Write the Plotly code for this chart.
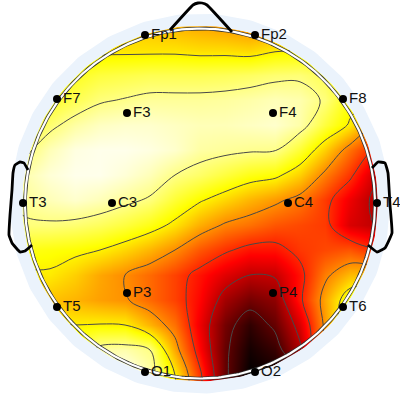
import numpy as np
import plotly.graph_objects as go

# grid positions of the scalp map (picture pixels)
grid_x = [0, 25, 50, 75, 100, 125, 150, 175, 200, 225, 250, 275, 300, 325, 350, 375, 400]
grid_y = [0, 25, 50, 75, 100, 125, 150, 175, 200, 225, 250, 275, 300, 325, 350, 375, 400]

# values: 0 = white ... 1 = black
row_000 = [.30, .30, .30, .30, .30, .32, .34, .36, .38, .40, .42, .42, .40, .38, .36, .34, .34]
row_025 = [.30, .30, .30, .30, .30, .32, .34, .36, .38, .40, .42, .42, .40, .38, .36, .34, .34]
row_050 = [.30, .30, .30, .29, .29, .29, .29, .29, .30, .30, .31, .28, .27, .26, .26, .28, .28]
row_075 = [.30, .30, .26, .22, .19, .18, .17, .17, .17, .165, .155, .14, .135, .17, .25, .30, .30]
row_100 = [.28, .25, .21, .17, .13, .115, .10, .10, .10, .095, .085, .07, .08, .13, .24, .30, .32]
row_125 = [.24, .22, .14, .09, .06, .05, .05, .06, .07, .07, .06, .05, .085, .19, .28, .42, .44]
row_150 = [.17, .14, .07, .03, .02, .02, .03, .05, .09, .10, .11, .115, .20, .32, .46, .58, .60]
row_175 = [.12, .08, .04, .02, .02, .04, .07, .12, .15, .19, .23, .25, .32, .44, .55, .70, .72]
row_200 = [.13, .10, .07, .05, .07, .10, .13, .20, .26, .31, .36, .40, .45, .54, .65, .74, .74]
row_225 = [.14, .13, .13, .14, .16, .19, .23, .29, .37, .43, .46, .50, .52, .54, .68, .72, .72]
row_250 = [.22, .23, .24, .25, .27, .31, .36, .42, .50, .555, .60, .60, .545, .52, .50, .56, .56]
row_275 = [.28, .28, .28, .32, .38, .42, .47, .53, .60, .67, .72, .71, .60, .44, .35, .33, .33]
row_300 = [.34, .34, .34, .36, .39, .41, .47, .53, .62, .76, .83, .79, .59, .38, .20, .20, .20]
row_325 = [.27, .27, .265, .27, .265, .27, .36, .46, .65, .83, .93, .85, .68, .40, .15, .15, .15]
row_350 = [.20, .20, .20, .20, .09, .08, .12, .38, .62, .85, .97, .92, .74, .40, .15, .15, .15]
row_375 = [.05, .05, .05, .05, .00, .00, .08, .27, .55, .85, 1.0, .98, .90, .50, .20, .20, .20]
row_400 = [.05, .05, .05, .05, .00, .00, .08, .27, .55, .85, 1.0, .98, .90, .50, .20, .20, .20]
scalp_values = [row_000, row_025, row_050, row_075, row_100, row_125, row_150, row_175, row_200,
                row_225, row_250, row_275, row_300, row_325, row_350, row_375, row_400]

electrode_names = ["Fp1", "Fp2", "F7", "F3", "F4", "F8", "T3", "C3", "C4", "T4", "T5", "P3", "P4", "T6", "O1", "O2"]
electrode_x = [145, 255, 57, 127, 273, 343, 23, 112, 288, 377, 57, 127, 273, 343, 145, 255]
electrode_y = [35, 35, 99, 113, 113, 99, 203, 203, 203, 203, 307, 293, 293, 307, 372, 372]

nose_x = [170, 193, 198, 202, 207, 232]
nose_y = [30, 5, 3, 3, 5, 32]
left_ear_x = [28, 24, 20, 15, 13, 12, 10, 9, 12, 20, 25, 32]
left_ear_y = [170, 163, 162, 165, 173, 190, 215, 235, 243, 252, 251, 245]
right_ear_x = [372, 378, 385, 388, 390, 392, 385, 377, 368]
right_ear_y = [168, 162, 163, 173, 205, 233, 248, 252, 245]

CX, CY = 200, 203.5
theta = np.linspace(0, 2 * np.pi, 361)


def circle(r):
    return CX + r * np.cos(theta), CY + r * np.sin(theta)


fig = go.Figure()

fig.add_trace(go.Heatmap(
    x=grid_x, y=grid_y, z=scalp_values, zmin=0, zmax=1, zsmooth="best", showscale=False,
    colorscale=[[0, "#ffffff"], [0.25, "#ffff00"], [0.625, "#ff0000"], [1, "#000000"]],
    hoverinfo="skip"))

fig.add_trace(go.Contour(
    x=grid_x, y=grid_y, z=scalp_values, showscale=False, hoverinfo="skip",
    contours=dict(start=0.12, end=0.87, size=0.15, coloring="none"),
    line=dict(color="#484848", width=1, smoothing=1.0)))

# white page outside the head, with a round hole for the map
mx, my = circle(178)
mask_x = [405, 405, -5, -5, 405, 405] + list(mx) + [405]
mask_y = [CY, -5, -5, 405, 405, CY] + list(my) + [CY]
fig.add_trace(go.Scatter(x=mask_x, y=mask_y, mode="lines", fill="toself", fillcolor="#ffffff",
                         line=dict(width=0, color="rgba(0,0,0,0)"), hoverinfo="skip", showlegend=False))

rx, ry = circle(184)
fig.add_trace(go.Scatter(x=rx, y=ry, mode="lines", line=dict(color="#ebf3fc", width=12),
                         hoverinfo="skip", showlegend=False))
hx, hy = circle(175)
fig.add_trace(go.Scatter(x=hx, y=hy, mode="lines", line=dict(color="#303030", width=3.6),
                         hoverinfo="skip", showlegend=False))
fig.add_trace(go.Scatter(x=hx, y=hy, mode="lines", line=dict(color="#ffffff", width=2.2),
                         hoverinfo="skip", showlegend=False))

for px, py in [(nose_x, nose_y), (left_ear_x, left_ear_y), (right_ear_x, right_ear_y)]:
    fig.add_trace(go.Scatter(x=px, y=py, mode="lines",
                             line=dict(color="#000000", width=2.8, shape="spline", smoothing=0.3),
                             hoverinfo="skip", showlegend=False))

fig.add_trace(go.Scatter(
    x=electrode_x, y=electrode_y, text=electrode_names, mode="markers+text",
    textposition="middle right", marker=dict(color="#000000", size=8),
    textfont=dict(family="Liberation Sans", size=15, color="#111111"),
    hoverinfo="skip", showlegend=False))

fig.update_layout(
    width=400, height=400, margin=dict(l=0, r=0, t=0, b=0), paper_bgcolor="#ffffff", plot_bgcolor="#ffffff",
    xaxis=dict(range=[0, 400], visible=False, fixedrange=True),
    yaxis=dict(range=[400, 0], visible=False, fixedrange=True),
    showlegend=False)

fig.write_html("out.html", config=dict(displayModeBar=False),
               post_script="document.body.style.margin='0';")
